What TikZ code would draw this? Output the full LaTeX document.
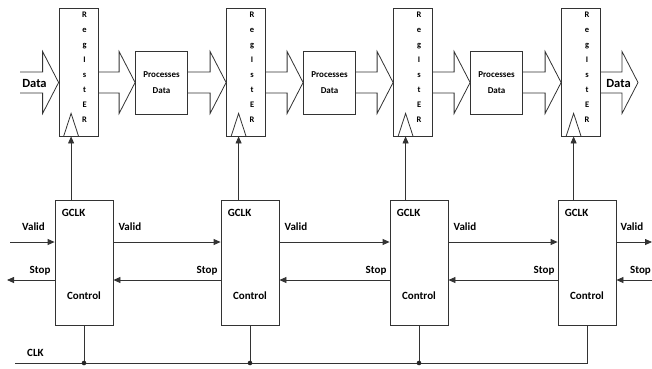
\documentclass[tikz,border=0pt]{standalone}
\usepackage{fontspec}
\setmainfont{Carlito}
\usetikzlibrary{arrows.meta,calc}

% hollow bus arrow from #1 to #2 (both on the data level)
\newcommand\fatarrow[2]{%
  \draw[fat] let \p1=(#1), \p2=(#2) in
    (\x1,\y1+10.5pt) -- (\x2-16pt,\y1+10.5pt) -- (\x2-16pt,\y1+31pt) --
    (\x2,\y1) -- (\x2-16pt,\y1-31pt) -- (\x2-16pt,\y1-10.5pt) -- (\x1,\y1-10.5pt);}

\begin{document}
\begin{tikzpicture}[x=1pt,y=-1pt,
  wire/.style={draw=black!80,line width=0.8pt},
  sig/.style={wire,-{Triangle[length=7pt,width=6pt]}},
  fat/.style={draw=black!80,line width=0.8pt,line join=miter},
  regbox/.style={draw=black!80,line width=0.8pt,minimum width=39pt,minimum height=128pt,inner sep=0pt},
  reglet/.style={align=center,inner sep=0pt,font=\bfseries\fontsize{8.5}{15}\selectfont},
  procbox/.style={draw=black!80,line width=0.8pt,minimum width=52pt,minimum height=63pt,inner sep=0pt,align=center,font=\bfseries\fontsize{9}{16}\selectfont},
  ctlbox/.style={draw=black!80,line width=0.8pt,minimum width=58pt,minimum height=125pt,inner sep=0pt},
  lbl/.style={inner sep=0pt,font=\bfseries\fontsize{11}{12}\selectfont},
  datalbl/.style={inner sep=0pt,font=\bfseries\fontsize{12.5}{14}\selectfont},
]
\useasboundingbox (0,0) rectangle (652,368);

% levels of the data bus, the handshake lines and the clock
\coordinate (dl) at (0,82.5);
\coordinate (vl) at (0,242);
\coordinate (st) at (0,280);

% registers with their clock inputs
\foreach \i/\x in {1/78.5,2/246,3/413,4/581}{
  \node[regbox] (reg\i) at (\x,72) {};
  \node[reglet] at ($(reg\i.north west)+(26,59.5)$) {R\\e\\g\\I\\s\\t\\E\\R};
  \draw[wire] ($(reg\i.south west)+(5,0)$) -- ($(reg\i.south west)+(12.5,-23)$) -- ($(reg\i.south west)+(20,0)$);
  \coordinate (ck\i) at ($(reg\i.south west)+(12.5,0)$);
}

% processing stages
\foreach \i/\x in {1/161.5,2/329.5,3/496.5}{
  \node[procbox] (proc\i) at (\x,82.5) {Processes\\Data};
}

% control blocks
\foreach \i/\x in {1/84,2/250,3/419,4/587}{
  \node[ctlbox] (ctl\i) at (\x,262.5) {};
  \node[lbl,anchor=west] at ($(ctl\i.north west)+(7,13)$) {GCLK};
  \node[lbl] at ($(ctl\i.north)+(0,96)$) {Control};
  \draw[sig] (ck\i |- ctl\i.north) -- (ck\i);
}

% data path
\coordinate (din) at (20,82.5);
\coordinate (dout) at (638,82.5);
\fatarrow{din}{reg1.west |- dl}
\foreach \i/\j in {1/1,2/2,3/3}{
  \fatarrow{reg\i.east |- dl}{proc\j.west |- dl}
}
\foreach \i/\j in {1/2,2/3,3/4}{
  \fatarrow{proc\i.east |- dl}{reg\j.west |- dl}
}
\fatarrow{reg4.east |- dl}{dout}
\node[datalbl] at (34.5,83) {Data};
\node[datalbl] at (618.5,83) {Data};

% handshake between neighbouring control blocks
\foreach \i/\j in {1/2,2/3,3/4}{
  \draw[sig] (ctl\i.east |- vl) -- (ctl\j.west |- vl);
  \draw[sig] (ctl\j.west |- st) -- (ctl\i.east |- st);
  \path (ctl\i.east |- vl) ++(5,-15.5) node[lbl,anchor=west] {Valid};
  \path (ctl\j.west |- st) ++(-3,-9) node[lbl,anchor=east] {Stop};
}

% handshake at the ends of the pipeline
\coordinate (vin) at (10,242);
\coordinate (sout) at (7,280);
\coordinate (vout) at (652,242);
\coordinate (sin) at (652,280);
\draw[sig] (vin) -- (ctl1.west |- vl);
\path (vin) ++(12,-15.5) node[lbl,anchor=west] {Valid};
\draw[sig] (ctl1.west |- st) -- (sout);
\path (ctl1.west |- st) ++(-4,-9) node[lbl,anchor=east] {Stop};
\draw[sig] (ctl4.east |- vl) -- (vout);
\path (ctl4.east |- vl) ++(4,-15.5) node[lbl,anchor=west] {Valid};
\draw[sig] (sin) -- (ctl4.east |- st);
\path (sin) ++(-1,-9) node[lbl,anchor=east] {Stop};

% clock distribution
\coordinate (clkin) at (15,363);
\draw[wire] (clkin) -- (ctl4.south |- clkin) -- (ctl4.south);
\path (clkin) ++(12,-10) node[lbl,anchor=west] {CLK};
\foreach \i in {1,2,3}{
  \draw[wire] (ctl\i.south) -- (ctl\i.south |- clkin);
  \fill[black!85] (ctl\i.south |- clkin) circle (2.3pt);
}
\end{tikzpicture}
\end{document}
